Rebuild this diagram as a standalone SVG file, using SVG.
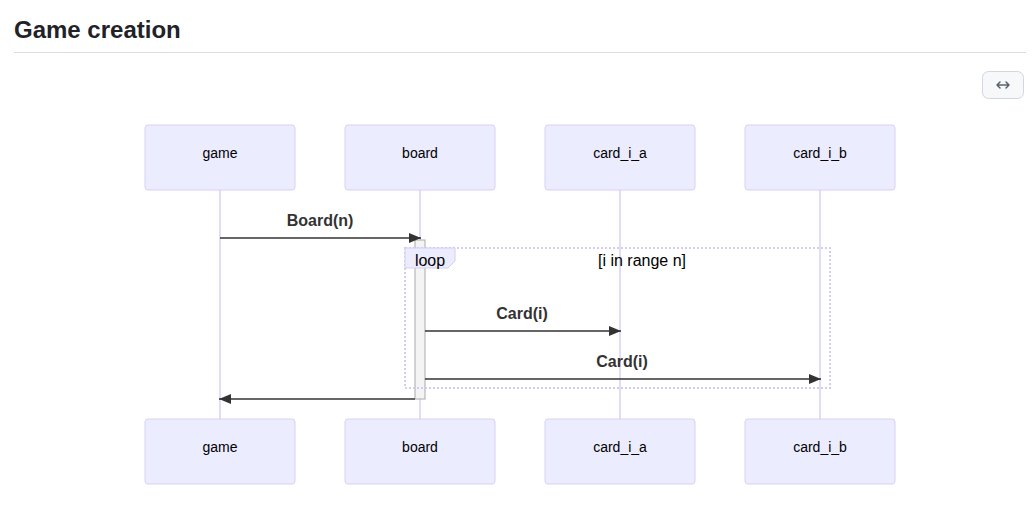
<svg xmlns="http://www.w3.org/2000/svg" width="1032" height="509" viewBox="0 0 1032 509">
<defs>
<style>
.actor rect{fill:#ececff;stroke:#d9d0f5;stroke-width:1}
.actor text{font-family:"Liberation Sans",Arial,sans-serif;font-size:14px;fill:#000;text-anchor:middle}
.life{stroke:#d9d0f5;stroke-width:1.5}
.msg{stroke:#333;stroke-width:1.5;fill:none}
.mlabel{font-family:"Liberation Sans",Arial,sans-serif;font-size:16px;font-weight:bold;fill:#333;text-anchor:middle}
.loopbox{fill:none;stroke:#d5ccf3;stroke-width:2;stroke-dasharray:2 2}
.looptext{font-family:"Liberation Sans",Arial,sans-serif;font-size:16px;fill:#000}
</style>
<marker id="arr" viewBox="0 0 12 10" refX="12" refY="5" markerWidth="12" markerHeight="10" markerUnits="userSpaceOnUse" orient="auto">
<path d="M0,0 L12,5 L0,10 z" fill="#333"/>
</marker>
</defs>
<rect width="1032" height="509" fill="#fff"/>
<text x="14" y="38" font-family="Liberation Sans,Arial,sans-serif" font-size="24" font-weight="bold" fill="#1f2328">Game creation</text>
<line x1="14" y1="52.5" x2="1026" y2="52.5" stroke="#d8dee4" stroke-width="1"/>
<g id="expand-button">
<rect x="982.5" y="71.5" width="41" height="27" rx="6" fill="#f6f8fa" stroke="#d0d7de"/>
<path d="M997,85 h12 M997,85 l3,-3 M997,85 l3,3 M1009,85 l-3,-3 M1009,85 l-3,3" stroke="#59636e" stroke-width="1.5" fill="none" stroke-linecap="round"/>
</g>
<g id="lifelines">
<line class="life" x1="220" y1="190" x2="220" y2="419"/>
<line class="life" x1="420" y1="190" x2="420" y2="419"/>
<line class="life" x1="620" y1="190" x2="620" y2="419"/>
<line class="life" x1="820" y1="190" x2="820" y2="419"/>
</g>
<g id="actor-game-top" class="actor"><rect x="145" y="125" width="150" height="65" rx="3"/><text x="220" y="158">game</text></g>
<g id="actor-board-top" class="actor"><rect x="345" y="125" width="150" height="65" rx="3"/><text x="420" y="158">board</text></g>
<g id="actor-card_i_a-top" class="actor"><rect x="545" y="125" width="150" height="65" rx="3"/><text x="620" y="158">card_i_a</text></g>
<g id="actor-card_i_b-top" class="actor"><rect x="745" y="125" width="150" height="65" rx="3"/><text x="820" y="158">card_i_b</text></g>
<g id="actor-game-bottom" class="actor"><rect x="145" y="419" width="150" height="65" rx="3"/><text x="220" y="452">game</text></g>
<g id="actor-board-bottom" class="actor"><rect x="345" y="419" width="150" height="65" rx="3"/><text x="420" y="452">board</text></g>
<g id="actor-card_i_a-bottom" class="actor"><rect x="545" y="419" width="150" height="65" rx="3"/><text x="620" y="452">card_i_a</text></g>
<g id="actor-card_i_b-bottom" class="actor"><rect x="745" y="419" width="150" height="65" rx="3"/><text x="820" y="452">card_i_b</text></g>
<g id="activation-board">
<rect x="415" y="240" width="10" height="159" fill="#f4f4f4" stroke="#aaa" stroke-width="1"/>
</g>
<g id="loop">
<rect class="loopbox" x="405" y="248" width="425" height="140"/>
<path d="M405,248 H455 V261 L448,268 H405 Z" fill="#ececff" stroke="#d5ccf3" stroke-width="1"/>
<text class="looptext" x="430" y="266" text-anchor="middle">loop</text>
<text class="looptext" x="642" y="266" text-anchor="middle">[i in range n]</text>
</g>
<g id="connectors">
<line class="msg" x1="220" y1="238" x2="421" y2="238" marker-end="url(#arr)"/>
<text class="mlabel" x="320" y="226">Board(n)</text>
<line class="msg" x1="425" y1="331" x2="621" y2="331" marker-end="url(#arr)"/>
<text class="mlabel" x="522" y="319">Card(i)</text>
<line class="msg" x1="425" y1="379" x2="821" y2="379" marker-end="url(#arr)"/>
<text class="mlabel" x="622" y="367">Card(i)</text>
<line class="msg" x1="415" y1="399" x2="219" y2="399" marker-end="url(#arr)"/>
</g>
</svg>
